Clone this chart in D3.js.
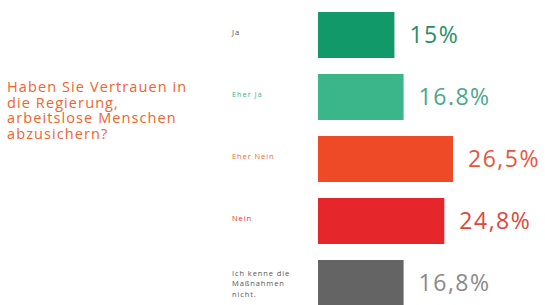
<!DOCTYPE html>
<html><head><meta charset="utf-8">
<script src="https://cdn.jsdelivr.net/npm/d3@7"></script>
<style>body{margin:0;background:#fff}svg{display:block}</style>
</head><body>
<script>
const categories = ["Ja", "Eher Ja", "Eher Nein", "Nein", "Ich kenne die Maßnahmen nicht."];
const categoryLines = [["Ja"], ["Eher Ja"], ["Eher Nein"], ["Nein"], ["Ich kenne die", "Maßnahmen", "nicht."]];
const values = [15, 16.8, 26.5, 24.8, 16.8];
const valueLabels = ["15%", "16.8%", "26,5%", "24,8%", "16,8%"];
const barColors = ["#12996a", "#3bb58a", "#ef4a28", "#e5262a", "#646464"];
const labelTextColors = ["#555555", "#3bb58a", "#ef6a30", "#e5352a", "#555555"];
const valueTextColors = ["#1f8f6a", "#4aa88a", "#e8563a", "#e0463a", "#8a8a8a"];
const questionLines = ["Haben Sie Vertrauen in", "die Regierung,", "arbeitslose Menschen", "abzusichern?"];

const W = 545, H = 305;
const svg = d3.select("body").append("svg").attr("width", W).attr("height", H);

const x = d3.scaleLinear().domain([0, 26.5]).range([318, 453]);
const y = d3.scaleBand().domain(categories).range([12, 306]).paddingInner(16 / 62).paddingOuter(0);

svg.selectAll("rect.bar").data(categories).join("rect")
  .attr("class", "bar")
  .attr("x", x(0))
  .attr("y", d => y(d))
  .attr("width", (d, i) => x(values[i]) - x(0))
  .attr("height", y.bandwidth())
  .attr("fill", (d, i) => barColors[i]);

svg.selectAll("text.val").data(categories).join("text")
  .attr("class", "val")
  .attr("x", (d, i) => x(values[i]) + 15)
  .attr("y", d => y(d) + y.bandwidth() / 2)
  .attr("dy", "0.36em")
  .attr("font-family", "Open Sans, sans-serif")
  .attr("font-size", 23)
  .attr("letter-spacing", 1.5)
  .attr("fill", (d, i) => valueTextColors[i])
  .text((d, i) => valueLabels[i]);

const lab = svg.selectAll("text.cat").data(categories).join("text")
  .attr("class", "cat")
  .attr("font-family", "Open Sans, sans-serif")
  .attr("font-size", 7.5)
  .attr("letter-spacing", 0.9)
  .attr("fill", (d, i) => labelTextColors[i]);
lab.each(function(d, i) {
  const lines = categoryLines[i];
  const lh = 10.5;
  const start = i === 4 ? y(d) + 13 : y(d) + y.bandwidth() / 2 - 3;
  d3.select(this).selectAll("tspan").data(lines).join("tspan")
    .attr("x", 232)
    .attr("y", (l, j) => start + j * lh)
    .attr("dy", "0.35em")
    .text(l => l);
});

svg.append("text")
  .attr("font-family", "Open Sans, sans-serif")
  .attr("font-size", 14.5)
  .attr("letter-spacing", 1.1)
  .attr("fill", "#f0632f")
  .selectAll("tspan").data(questionLines).join("tspan")
  .attr("x", 7)
  .attr("y", (d, i) => 92 + i * 15.5)
  .text(d => d);
</script>
</body></html>
